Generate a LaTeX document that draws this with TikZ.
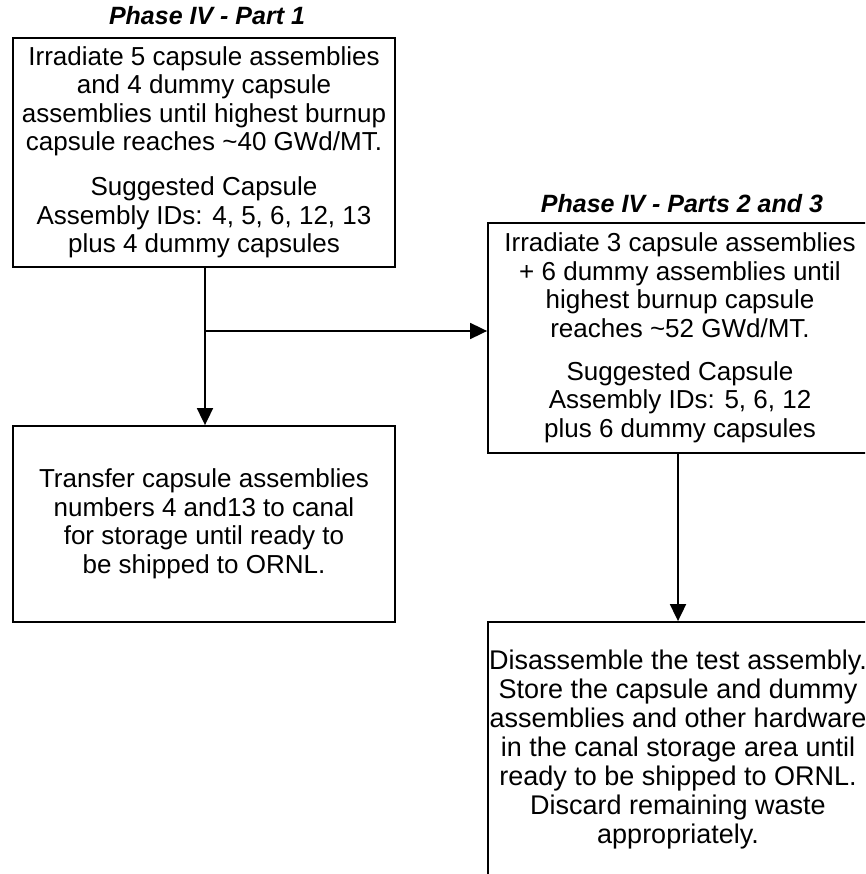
\documentclass[tikz,border=0pt]{standalone}
\usepackage{fontspec}
\setmainfont{Liberation Sans}
\usetikzlibrary{positioning,arrows.meta}

\begin{document}
\begin{tikzpicture}[x=1pt,y=-1pt]
   \clip (0,0) rectangle (865,874);
% Draw Flow Chart
   \begin{scope}[ >={Triangle[length=17pt,width=16pt]}, line width=1.8pt,
                   block/.style={rectangle,draw,align=center,inner sep=0pt,
                                 font=\fontsize{26}{28.5}\selectfont},
                   phase/.style={inner sep=0pt,font=\fontsize{25}{28}\selectfont\bfseries\itshape} ]
     \node [block,minimum width=382pt,minimum height=229pt] (part1) at (204,152.5)
           {Irradiate 5 capsule assemblies\\ and 4 dummy capsule\\ assemblies until highest burnup\\
            capsule reaches \textasciitilde40 GWd/MT.\\[16.5pt] Suggested Capsule\\
            Assembly IDs: 4, 5, 6, 12, 13\\ plus 4 dummy capsules};
     \node [phase] (title1) [above=11pt of part1,xshift=3pt] {Phase IV - Part 1};
     \node [block,minimum width=382pt,minimum height=196pt] (canal) at (204,524)
           {Transfer capsule assemblies\\ numbers 4 and13 to canal\\ for storage until ready to\\
            be shipped to ORNL.};
     \node [block,minimum width=384pt,minimum height=230pt] (part23) at (680,338)
           {Irradiate 3 capsule assemblies\\ + 6 dummy assemblies until\\ highest burnup capsule\\
            reaches \textasciitilde52 GWd/MT.\\[14.5pt] Suggested Capsule\\
            Assembly IDs: 5, 6, 12\\ plus 6 dummy capsules};
     \node [phase] (title23) [above=8pt of part23,xshift=2pt] {Phase IV - Parts 2 and 3};
     \node [block,minimum width=380pt,minimum height=256pt,
            font=\fontsize{27}{29}\selectfont] (disasm) at (678,750)
           {Disassemble the test assembly.\\ Store the capsule and dummy\\ assemblies and other hardware\\
            in the canal storage area until\\ ready to be shipped to ORNL.\\ Discard remaining waste\\
            appropriately.};
     \coordinate (split) at (205,331);
     \draw [->] (part1.south -| split) -- (canal.north -| split);
     \draw [->] (split) -- (split -| part23.west);
     \draw [->] (disasm.north |- part23.south) -- (disasm.north);
   \end{scope}
\end{tikzpicture}
\end{document}
